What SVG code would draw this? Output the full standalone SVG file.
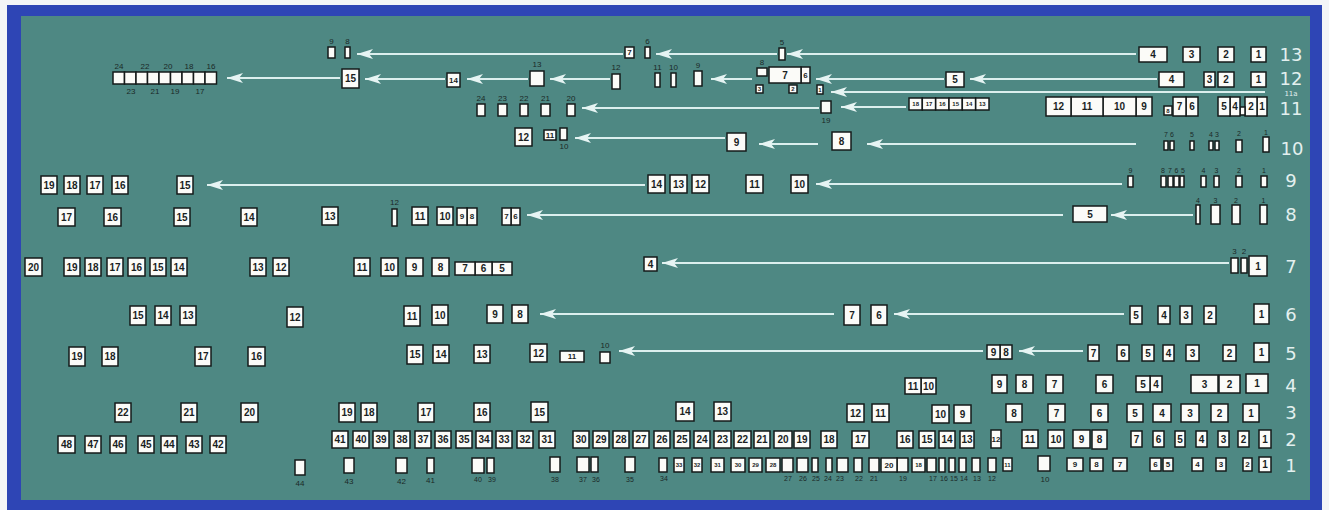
<svg xmlns="http://www.w3.org/2000/svg" width="1329" height="510" viewBox="0 0 1329 510">
<defs>
<style>
.bg{fill:#2e45b5}
.panel{fill:#4e8883}
.n rect{fill:#fbfbf8;stroke:#151a1a;stroke-width:1.5}
.n text{font-family:"Liberation Sans",Arial,sans-serif;font-weight:bold;font-size:10px;fill:#1a1f1f;text-anchor:middle;dominant-baseline:central}
.n text.s{font-size:8px}
.n text.xs{font-size:6px}
.n text.o{font-weight:normal;font-size:8px;fill:#1b2828}
.n text.o7{font-weight:normal;font-size:7px;fill:#1b2828}
.row{font-family:"DejaVu Sans",sans-serif;font-size:18px;fill:#e3f0ef;text-anchor:middle}
.c line{stroke:#dcefee;stroke-width:2;marker-end:url(#ah)}
</style>
<marker id="ah" viewBox="0 0 16 10" refX="16" refY="5" markerWidth="16" markerHeight="10" markerUnits="userSpaceOnUse" orient="auto"><path d="M0,0 L16,5 L0,10 L4,5 Z" fill="#e6f4f3"/></marker>
</defs>
<rect width="1329" height="510" fill="#f4f5f7"/>
<rect class="bg" x="7" y="5" width="1315" height="505"/>
<rect class="panel" x="21" y="16" width="1289" height="484"/>

<g id="connectors" class="c">
<line x1="1136" y1="54" x2="787" y2="54"/>
<line x1="777" y1="54" x2="656" y2="54"/>
<line x1="623" y1="54" x2="357" y2="54"/>
<line x1="1157" y1="79" x2="970" y2="79"/>
<line x1="944" y1="79" x2="816" y2="79"/>
<line x1="752" y1="79" x2="711" y2="79"/>
<line x1="610" y1="79" x2="550" y2="79"/>
<line x1="528" y1="79" x2="467" y2="79"/>
<line x1="445" y1="79" x2="365" y2="79"/>
<line x1="340" y1="78" x2="227" y2="78"/>
<line x1="1265" y1="92" x2="831" y2="92"/>
<line x1="906" y1="107" x2="841" y2="107"/>
<line x1="819" y1="108" x2="582" y2="108"/>
<line x1="1136" y1="144" x2="867" y2="144"/>
<line x1="818" y1="144" x2="759" y2="144"/>
<line x1="725" y1="138" x2="575" y2="138"/>
<line x1="1122" y1="184" x2="816" y2="184"/>
<line x1="645" y1="185" x2="207" y2="185"/>
<line x1="1193" y1="215" x2="1111" y2="215"/>
<line x1="1063" y1="215" x2="527" y2="215"/>
<line x1="1229" y1="263" x2="662" y2="263"/>
<line x1="1124" y1="314" x2="894" y2="314"/>
<line x1="834" y1="314" x2="540" y2="314"/>
<line x1="1083" y1="351" x2="1019" y2="351"/>
<line x1="983" y1="351" x2="619" y2="351"/>
</g>

<g id="row-labels">
<text class="row" x="1291" y="61">13</text>
<text class="row" x="1291" y="85">12</text>
<text class="row" x="1291" y="96" style="font-size:7px">11a</text>
<text class="row" x="1291" y="115">11</text>
<text class="row" x="1292" y="155">10</text>
<text class="row" x="1291" y="187">9</text>
<text class="row" x="1291" y="221">8</text>
<text class="row" x="1291" y="273">7</text>
<text class="row" x="1291" y="321">6</text>
<text class="row" x="1291" y="360">5</text>
<text class="row" x="1291" y="392">4</text>
<text class="row" x="1291" y="419">3</text>
<text class="row" x="1291" y="446">2</text>
<text class="row" x="1291" y="472">1</text>
</g>

<!-- Row 13 -->
<g id="r13-1" class="n"><rect x="1251" y="47" width="15" height="15"/><text x="1258.5" y="54.5">1</text></g>
<g id="r13-2" class="n"><rect x="1218" y="47" width="16" height="15"/><text x="1226" y="54.5">2</text></g>
<g id="r13-3" class="n"><rect x="1183" y="47" width="17" height="15"/><text x="1191.5" y="54.5">3</text></g>
<g id="r13-4" class="n"><rect x="1139" y="47" width="28" height="15"/><text x="1153" y="54.5">4</text></g>
<g id="r13-5" class="n"><rect x="779" y="48" width="6" height="12"/><text class="o" x="782" y="42">5</text></g>
<g id="r13-6" class="n"><rect x="645" y="47" width="5" height="11"/><text class="o" x="647.5" y="41">6</text></g>
<g id="r13-7" class="n"><rect x="625" y="47" width="9" height="11"/><text class="s" x="629.5" y="52.5">7</text></g>
<g id="r13-8" class="n"><rect x="345" y="47" width="5" height="11"/><text class="o" x="347.5" y="41">8</text></g>
<g id="r13-9" class="n"><rect x="328" y="47" width="7" height="11"/><text class="o" x="331.5" y="41">9</text></g>

<!-- Row 12 -->
<g id="r12-1" class="n"><rect x="1251" y="72" width="15" height="15"/><text x="1258.5" y="79.5">1</text></g>
<g id="r12-2" class="n"><rect x="1218" y="72" width="16" height="15"/><text x="1226" y="79.5">2</text></g>
<g id="r12-3" class="n"><rect x="1204" y="72" width="11" height="15"/><text x="1209.5" y="79.5">3</text></g>
<g id="r12-4" class="n"><rect x="1159" y="72" width="25" height="15"/><text x="1171.5" y="79.5">4</text></g>
<g id="r12-5" class="n"><rect x="946" y="72" width="18" height="15"/><text x="955" y="79.5">5</text></g>
<g id="r12-6" class="n"><rect x="801" y="67" width="9" height="16"/><text class="s" x="805.5" y="75">6</text></g>
<g id="r12-7" class="n"><rect x="769" y="67" width="32" height="16"/><text x="785" y="75">7</text></g>
<g id="r12-8" class="n"><rect x="757" y="68" width="10" height="8"/><text class="o" x="762" y="62">8</text></g>
<g id="r12-9" class="n"><rect x="694" y="71" width="8" height="15"/><text class="o" x="698" y="65">9</text></g>
<g id="r12-10" class="n"><rect x="671" y="73" width="5" height="14"/><text class="o" x="673.5" y="67">10</text></g>
<g id="r12-11" class="n"><rect x="655" y="73" width="5" height="14"/><text class="o" x="657.5" y="67">11</text></g>
<g id="r12-12" class="n"><rect x="612" y="74" width="8" height="15"/><text class="o" x="616" y="67">12</text></g>
<g id="r12-13" class="n"><rect x="530" y="71" width="14" height="15"/><text class="o" x="537" y="64">13</text></g>
<g id="r12-14" class="n"><rect x="447" y="73" width="13" height="14"/><text class="s" x="453.5" y="80">14</text></g>
<g id="r12-15" class="n"><rect x="342" y="69" width="17" height="19"/><text x="350.5" y="78.5">15</text></g>
<g id="r12-24" class="n"><rect x="113" y="72" width="11.5" height="12"/><text class="o" x="119" y="66">24</text></g>
<g id="r12-23" class="n"><rect x="124.5" y="72" width="11.5" height="12"/><text class="o" x="131" y="91">23</text></g>
<g id="r12-22" class="n"><rect x="136" y="72" width="11.5" height="12"/><text class="o" x="145" y="66">22</text></g>
<g id="r12-21" class="n"><rect x="147.5" y="72" width="11.5" height="12"/><text class="o" x="155" y="91">21</text></g>
<g id="r12-20" class="n"><rect x="159" y="72" width="11.5" height="12"/><text class="o" x="168" y="66">20</text></g>
<g id="r12-19" class="n"><rect x="170.5" y="72" width="11.5" height="12"/><text class="o" x="175" y="91">19</text></g>
<g id="r12-18" class="n"><rect x="182" y="72" width="11.5" height="12"/><text class="o" x="189" y="66">18</text></g>
<g id="r12-17" class="n"><rect x="193.5" y="72" width="11.5" height="12"/><text class="o" x="200" y="91">17</text></g>
<g id="r12-16" class="n"><rect x="205" y="72" width="11.5" height="12"/><text class="o" x="211" y="66">16</text></g>

<!-- Row 11a -->
<g id="r11a-1" class="n"><rect x="817" y="85" width="6" height="9"/><text class="xs" x="820" y="89.5">1</text></g>
<g id="r11a-2" class="n"><rect x="789" y="85" width="8" height="8"/><text class="xs" x="793" y="89">2</text></g>
<g id="r11a-3" class="n"><rect x="756" y="85" width="7" height="8"/><text class="xs" x="759.5" y="89">3</text></g>

<!-- Row 11 -->
<g id="r11-1" class="n"><rect x="1257" y="97" width="10" height="19"/><text x="1262" y="106.5">1</text></g>
<g id="r11-2" class="n"><rect x="1245" y="97" width="12" height="19"/><text x="1251" y="106.5">2</text></g>
<g id="r11-3" class="n"><rect x="1240" y="107" width="5" height="8"/></g>
<g id="r11-4" class="n"><rect x="1230" y="97" width="10" height="19"/><text x="1235" y="106.5">4</text></g>
<g id="r11-5" class="n"><rect x="1218" y="97" width="12" height="19"/><text x="1224" y="106.5">5</text></g>
<g id="r11-6" class="n"><rect x="1186" y="97" width="12" height="19"/><text x="1192" y="106.5">6</text></g>
<g id="r11-7" class="n"><rect x="1173" y="97" width="13" height="19"/><text x="1179.5" y="106.5">7</text></g>
<g id="r11-8" class="n"><rect x="1164" y="106" width="8" height="9"/><text class="xs" x="1168" y="110.5">8</text></g>
<g id="r11-9" class="n"><rect x="1136" y="97" width="16" height="19"/><text x="1144" y="106.5">9</text></g>
<g id="r11-10" class="n"><rect x="1103" y="97" width="33" height="19"/><text x="1119.5" y="106.5">10</text></g>
<g id="r11-11" class="n"><rect x="1071" y="97" width="32" height="19"/><text x="1087" y="106.5">11</text></g>
<g id="r11-12" class="n"><rect x="1046" y="97" width="25" height="19"/><text x="1058.5" y="106.5">12</text></g>
<g id="r11-18" class="n"><rect x="909" y="98" width="13.3" height="12"/><text class="xs" x="915.7" y="104">18</text></g>
<g id="r11-17" class="n"><rect x="922.3" y="98" width="13.3" height="12"/><text class="xs" x="929" y="104">17</text></g>
<g id="r11-16" class="n"><rect x="935.7" y="98" width="13.3" height="12"/><text class="xs" x="942.3" y="104">16</text></g>
<g id="r11-15" class="n"><rect x="949" y="98" width="13.3" height="12"/><text class="xs" x="955.7" y="104">15</text></g>
<g id="r11-14" class="n"><rect x="962.3" y="98" width="13.3" height="12"/><text class="xs" x="969" y="104">14</text></g>
<g id="r11-13" class="n"><rect x="975.7" y="98" width="13.3" height="12"/><text class="xs" x="982.3" y="104">13</text></g>
<g id="r11-19" class="n"><rect x="821" y="101" width="10" height="12"/><text class="o" x="826" y="120">19</text></g>
<g id="r11-20" class="n"><rect x="567" y="104" width="8" height="12"/><text class="o" x="571" y="98">20</text></g>
<g id="r11-21" class="n"><rect x="541" y="104" width="9" height="12"/><text class="o" x="545.5" y="98">21</text></g>
<g id="r11-22" class="n"><rect x="520" y="104" width="8" height="12"/><text class="o" x="524" y="98">22</text></g>
<g id="r11-23" class="n"><rect x="498" y="104" width="9" height="12"/><text class="o" x="502.5" y="98">23</text></g>
<g id="r11-24" class="n"><rect x="477" y="104" width="8" height="12"/><text class="o" x="481" y="98">24</text></g>

<!-- Row 10 -->
<g id="r10-1" class="n"><rect x="1263" y="137" width="6" height="15"/><text class="o7" x="1266" y="132">1</text></g>
<g id="r10-2" class="n"><rect x="1236" y="140" width="6" height="12"/><text class="o7" x="1239" y="133">2</text></g>
<g id="r10-3" class="n"><rect x="1215" y="141" width="4" height="9"/><text class="o7" x="1217" y="134">3</text></g>
<g id="r10-4" class="n"><rect x="1209" y="141" width="4" height="9"/><text class="o7" x="1211" y="134">4</text></g>
<g id="r10-5" class="n"><rect x="1190" y="141" width="4" height="9"/><text class="o7" x="1192" y="134">5</text></g>
<g id="r10-6" class="n"><rect x="1170" y="141" width="4" height="9"/><text class="o7" x="1172" y="134">6</text></g>
<g id="r10-7" class="n"><rect x="1164" y="141" width="4" height="9"/><text class="o7" x="1166" y="134">7</text></g>
<g id="r10-8" class="n"><rect x="832" y="132" width="19" height="18"/><text x="841.5" y="141">8</text></g>
<g id="r10-9" class="n"><rect x="727" y="133" width="19" height="18"/><text x="736.5" y="142">9</text></g>
<g id="r10-10" class="n"><rect x="560" y="128" width="7" height="12"/><text class="o" x="564" y="146">10</text></g>
<g id="r10-11" class="n"><rect x="544" y="130" width="12" height="10"/><text class="s" x="550" y="135">11</text></g>
<g id="r10-12" class="n"><rect x="515" y="128" width="17" height="18"/><text x="523.5" y="137">12</text></g>

<!-- Row 9 -->
<g id="r9-1" class="n"><rect x="1261" y="176" width="6" height="11"/><text class="o7" x="1264" y="170">1</text></g>
<g id="r9-2" class="n"><rect x="1236" y="176" width="6" height="11"/><text class="o7" x="1239" y="170">2</text></g>
<g id="r9-3" class="n"><rect x="1214" y="176" width="5" height="11"/><text class="o7" x="1216.5" y="170">3</text></g>
<g id="r9-4" class="n"><rect x="1201" y="176" width="5" height="11"/><text class="o7" x="1203.5" y="170">4</text></g>
<g id="r9-5" class="n"><rect x="1180" y="176" width="4" height="11"/><text class="o7" x="1183" y="170">5</text></g>
<g id="r9-6" class="n"><rect x="1174" y="176" width="5" height="11"/><text class="o7" x="1176.5" y="170">6</text></g>
<g id="r9-7" class="n"><rect x="1168" y="176" width="5" height="11"/><text class="o7" x="1170" y="170">7</text></g>
<g id="r9-8" class="n"><rect x="1161" y="176" width="5" height="11"/><text class="o7" x="1163" y="170">8</text></g>
<g id="r9-9" class="n"><rect x="1128" y="176" width="5" height="11"/><text class="o7" x="1130.5" y="170">9</text></g>
<g id="r9-10" class="n"><rect x="791" y="175" width="17" height="18"/><text x="799.5" y="184">10</text></g>
<g id="r9-11" class="n"><rect x="746" y="175" width="17" height="18"/><text x="754.5" y="184">11</text></g>
<g id="r9-12" class="n"><rect x="692" y="175" width="17" height="18"/><text x="700.5" y="184">12</text></g>
<g id="r9-13" class="n"><rect x="670" y="175" width="17" height="18"/><text x="678.5" y="184">13</text></g>
<g id="r9-14" class="n"><rect x="648" y="175" width="17" height="18"/><text x="656.5" y="184">14</text></g>
<g id="r9-15" class="n"><rect x="177" y="176" width="16" height="18"/><text x="185" y="185">15</text></g>
<g id="r9-16" class="n"><rect x="112" y="176" width="16" height="18"/><text x="120" y="185">16</text></g>
<g id="r9-17" class="n"><rect x="87" y="176" width="16" height="18"/><text x="95" y="185">17</text></g>
<g id="r9-18" class="n"><rect x="64" y="176" width="16" height="18"/><text x="72" y="185">18</text></g>
<g id="r9-19" class="n"><rect x="41" y="176" width="16" height="18"/><text x="49" y="185">19</text></g>

<!-- Row 8 -->
<g id="r8-1" class="n"><rect x="1260" y="205" width="7" height="19"/><text class="o7" x="1263.5" y="200">1</text></g>
<g id="r8-2" class="n"><rect x="1232" y="205" width="8" height="19"/><text class="o7" x="1236" y="200">2</text></g>
<g id="r8-3" class="n"><rect x="1211" y="205" width="9" height="19"/><text class="o7" x="1215.5" y="200">3</text></g>
<g id="r8-4" class="n"><rect x="1196" y="205" width="4" height="19"/><text class="o7" x="1198" y="200">4</text></g>
<g id="r8-5" class="n"><rect x="1073" y="206" width="34" height="16"/><text x="1090" y="214">5</text></g>
<g id="r8-6" class="n"><rect x="511" y="208" width="9" height="17"/><text class="s" x="515.5" y="216.5">6</text></g>
<g id="r8-7" class="n"><rect x="502" y="208" width="9" height="17"/><text class="s" x="506.5" y="216.5">7</text></g>
<g id="r8-8" class="n"><rect x="467" y="208" width="10" height="17"/><text class="s" x="472" y="216.5">8</text></g>
<g id="r8-9" class="n"><rect x="457" y="208" width="10" height="17"/><text class="s" x="462" y="216.5">9</text></g>
<g id="r8-10" class="n"><rect x="437" y="207" width="16" height="18"/><text x="445" y="216">10</text></g>
<g id="r8-11" class="n"><rect x="412" y="207" width="16" height="18"/><text x="420" y="216">11</text></g>
<g id="r8-12" class="n"><rect x="392" y="209" width="5" height="17"/><text class="o" x="394.5" y="202">12</text></g>
<g id="r8-13" class="n"><rect x="322" y="207" width="16" height="18"/><text x="330" y="216">13</text></g>
<g id="r8-14" class="n"><rect x="241" y="208" width="16" height="18"/><text x="249" y="217">14</text></g>
<g id="r8-15" class="n"><rect x="174" y="208" width="16" height="18"/><text x="182" y="217">15</text></g>
<g id="r8-16" class="n"><rect x="104" y="208" width="17" height="18"/><text x="112.5" y="217">16</text></g>
<g id="r8-17" class="n"><rect x="58" y="208" width="17" height="18"/><text x="66.5" y="217">17</text></g>

<!-- Row 7 -->
<g id="r7-1" class="n"><rect x="1249" y="256" width="18" height="20"/><text x="1258" y="266">1</text></g>
<g id="r7-2" class="n"><rect x="1241" y="258" width="6" height="15"/><text class="o" x="1244" y="251">2</text></g>
<g id="r7-3" class="n"><rect x="1231" y="258" width="7" height="15"/><text class="o" x="1234.5" y="251">3</text></g>
<g id="r7-4" class="n"><rect x="644" y="257" width="13" height="14"/><text x="650.5" y="264">4</text></g>
<g id="r7-5" class="n"><rect x="492" y="262" width="20" height="13"/><text x="502" y="268.5">5</text></g>
<g id="r7-6" class="n"><rect x="475" y="262" width="17" height="13"/><text x="483.5" y="268.5">6</text></g>
<g id="r7-7" class="n"><rect x="455" y="262" width="20" height="13"/><text x="465" y="268.5">7</text></g>
<g id="r7-8" class="n"><rect x="432" y="258" width="17" height="18"/><text x="440.5" y="267">8</text></g>
<g id="r7-9" class="n"><rect x="406" y="258" width="17" height="18"/><text x="414.5" y="267">9</text></g>
<g id="r7-10" class="n"><rect x="381" y="258" width="17" height="18"/><text x="389.5" y="267">10</text></g>
<g id="r7-11" class="n"><rect x="354" y="258" width="16" height="18"/><text x="362" y="267">11</text></g>
<g id="r7-12" class="n"><rect x="273" y="258" width="16" height="18"/><text x="281" y="267">12</text></g>
<g id="r7-13" class="n"><rect x="250" y="258" width="16" height="18"/><text x="258" y="267">13</text></g>
<g id="r7-14" class="n"><rect x="171" y="258" width="16" height="18"/><text x="179" y="267">14</text></g>
<g id="r7-15" class="n"><rect x="150" y="258" width="16" height="18"/><text x="158" y="267">15</text></g>
<g id="r7-16" class="n"><rect x="128" y="258" width="17" height="18"/><text x="136.5" y="267">16</text></g>
<g id="r7-17" class="n"><rect x="107" y="258" width="16" height="18"/><text x="115" y="267">17</text></g>
<g id="r7-18" class="n"><rect x="85" y="258" width="16" height="18"/><text x="93" y="267">18</text></g>
<g id="r7-19" class="n"><rect x="64" y="258" width="16" height="18"/><text x="72" y="267">19</text></g>
<g id="r7-20" class="n"><rect x="25" y="258" width="17" height="18"/><text x="33.5" y="267">20</text></g>

<!-- Row 6 -->
<g id="r6-1" class="n"><rect x="1254" y="304" width="15" height="20"/><text x="1261.5" y="314">1</text></g>
<g id="r6-2" class="n"><rect x="1204" y="306" width="12" height="18"/><text x="1210" y="315">2</text></g>
<g id="r6-3" class="n"><rect x="1180" y="306" width="12" height="18"/><text x="1186" y="315">3</text></g>
<g id="r6-4" class="n"><rect x="1158" y="306" width="12" height="18"/><text x="1164" y="315">4</text></g>
<g id="r6-5" class="n"><rect x="1130" y="306" width="12" height="18"/><text x="1136" y="315">5</text></g>
<g id="r6-6" class="n"><rect x="871" y="305" width="16" height="20"/><text x="879" y="315">6</text></g>
<g id="r6-7" class="n"><rect x="844" y="305" width="16" height="20"/><text x="852" y="315">7</text></g>
<g id="r6-8" class="n"><rect x="512" y="305" width="16" height="18"/><text x="520" y="314">8</text></g>
<g id="r6-9" class="n"><rect x="487" y="305" width="16" height="18"/><text x="495" y="314">9</text></g>
<g id="r6-10" class="n"><rect x="432" y="305" width="16" height="20"/><text x="440" y="315">10</text></g>
<g id="r6-11" class="n"><rect x="404" y="306" width="16" height="20"/><text x="412" y="316">11</text></g>
<g id="r6-12" class="n"><rect x="287" y="307" width="16" height="20"/><text x="295" y="317">12</text></g>
<g id="r6-13" class="n"><rect x="180" y="306" width="16" height="19"/><text x="188" y="315.5">13</text></g>
<g id="r6-14" class="n"><rect x="155" y="306" width="16" height="19"/><text x="163" y="315.5">14</text></g>
<g id="r6-15" class="n"><rect x="130" y="306" width="16" height="19"/><text x="138" y="315.5">15</text></g>

<!-- Row 5 -->
<g id="r5-1" class="n"><rect x="1254" y="343" width="15" height="19"/><text x="1261.5" y="352.5">1</text></g>
<g id="r5-2" class="n"><rect x="1223" y="345" width="13" height="16"/><text x="1229.5" y="353">2</text></g>
<g id="r5-3" class="n"><rect x="1186" y="345" width="13" height="16"/><text x="1192.5" y="353">3</text></g>
<g id="r5-4" class="n"><rect x="1163" y="345" width="11" height="16"/><text x="1168.5" y="353">4</text></g>
<g id="r5-5" class="n"><rect x="1142" y="345" width="12" height="16"/><text x="1148" y="353">5</text></g>
<g id="r5-6" class="n"><rect x="1117" y="345" width="12" height="16"/><text x="1123" y="353">6</text></g>
<g id="r5-7" class="n"><rect x="1088" y="345" width="11" height="16"/><text x="1093.5" y="353">7</text></g>
<g id="r5-8" class="n"><rect x="1000" y="345" width="12" height="14"/><text x="1006" y="352">8</text></g>
<g id="r5-9" class="n"><rect x="987" y="345" width="13" height="14"/><text x="993.5" y="352">9</text></g>
<g id="r5-10" class="n"><rect x="600" y="352" width="10" height="11"/><text class="o" x="605" y="345">10</text></g>
<g id="r5-11" class="n"><rect x="560" y="351" width="24" height="11"/><text class="s" x="572" y="356.5">11</text></g>
<g id="r5-12" class="n"><rect x="530" y="344" width="17" height="18"/><text x="538.5" y="353">12</text></g>
<g id="r5-13" class="n"><rect x="474" y="345" width="16" height="18"/><text x="482" y="354">13</text></g>
<g id="r5-14" class="n"><rect x="433" y="345" width="16" height="18"/><text x="441" y="354">14</text></g>
<g id="r5-15" class="n"><rect x="407" y="345" width="16" height="19"/><text x="415" y="354.5">15</text></g>
<g id="r5-16" class="n"><rect x="248" y="347" width="17" height="19"/><text x="256.5" y="356.5">16</text></g>
<g id="r5-17" class="n"><rect x="195" y="347" width="16" height="19"/><text x="203" y="356.5">17</text></g>
<g id="r5-18" class="n"><rect x="102" y="347" width="16" height="19"/><text x="110" y="356.5">18</text></g>
<g id="r5-19" class="n"><rect x="69" y="347" width="16" height="19"/><text x="77" y="356.5">19</text></g>

<!-- Row 4 -->
<g id="r4-1" class="n"><rect x="1246" y="374" width="22" height="19"/><text x="1257" y="383.5">1</text></g>
<g id="r4-2" class="n"><rect x="1219" y="375" width="21" height="18"/><text x="1229.5" y="384">2</text></g>
<g id="r4-3" class="n"><rect x="1191" y="375" width="27" height="18"/><text x="1204.5" y="384">3</text></g>
<g id="r4-4" class="n"><rect x="1150" y="376" width="12" height="16"/><text x="1156" y="384">4</text></g>
<g id="r4-5" class="n"><rect x="1136" y="376" width="14" height="16"/><text x="1143" y="384">5</text></g>
<g id="r4-6" class="n"><rect x="1096" y="375" width="17" height="18"/><text x="1104.5" y="384">6</text></g>
<g id="r4-7" class="n"><rect x="1046" y="375" width="17" height="18"/><text x="1054.5" y="384">7</text></g>
<g id="r4-8" class="n"><rect x="1016" y="375" width="17" height="18"/><text x="1024.5" y="384">8</text></g>
<g id="r4-9" class="n"><rect x="992" y="375" width="15" height="18"/><text x="999.5" y="384">9</text></g>
<g id="r4-10" class="n"><rect x="921" y="378" width="15" height="16"/><text x="928.5" y="386">10</text></g>
<g id="r4-11" class="n"><rect x="905" y="378" width="16" height="16"/><text x="913" y="386">11</text></g>

<!-- Row 3 -->
<g id="r3-1" class="n"><rect x="1243" y="404" width="16" height="18"/><text x="1251" y="413">1</text></g>
<g id="r3-2" class="n"><rect x="1211" y="404" width="17" height="18"/><text x="1219.5" y="413">2</text></g>
<g id="r3-3" class="n"><rect x="1181" y="404" width="18" height="18"/><text x="1190" y="413">3</text></g>
<g id="r3-4" class="n"><rect x="1153" y="404" width="18" height="18"/><text x="1162" y="413">4</text></g>
<g id="r3-5" class="n"><rect x="1127" y="404" width="16" height="18"/><text x="1135" y="413">5</text></g>
<g id="r3-6" class="n"><rect x="1091" y="404" width="17" height="18"/><text x="1099.5" y="413">6</text></g>
<g id="r3-7" class="n"><rect x="1048" y="404" width="17" height="18"/><text x="1056.5" y="413">7</text></g>
<g id="r3-8" class="n"><rect x="1006" y="404" width="16" height="18"/><text x="1014" y="413">8</text></g>
<g id="r3-9" class="n"><rect x="954" y="405" width="17" height="18"/><text x="962.5" y="414">9</text></g>
<g id="r3-10" class="n"><rect x="932" y="405" width="17" height="18"/><text x="940.5" y="414">10</text></g>
<g id="r3-11" class="n"><rect x="872" y="404" width="17" height="18"/><text x="880.5" y="413">11</text></g>
<g id="r3-12" class="n"><rect x="847" y="404" width="17" height="18"/><text x="855.5" y="413">12</text></g>
<g id="r3-13" class="n"><rect x="714" y="402" width="17" height="19"/><text x="722.5" y="411.5">13</text></g>
<g id="r3-14" class="n"><rect x="676" y="402" width="18" height="19"/><text x="685" y="411.5">14</text></g>
<g id="r3-15" class="n"><rect x="531" y="402" width="17" height="20"/><text x="539.5" y="412">15</text></g>
<g id="r3-16" class="n"><rect x="474" y="403" width="16" height="19"/><text x="482" y="412.5">16</text></g>
<g id="r3-17" class="n"><rect x="418" y="403" width="16" height="19"/><text x="426" y="412.5">17</text></g>
<g id="r3-18" class="n"><rect x="361" y="403" width="16" height="19"/><text x="369" y="412.5">18</text></g>
<g id="r3-19" class="n"><rect x="339" y="403" width="16" height="19"/><text x="347" y="412.5">19</text></g>
<g id="r3-20" class="n"><rect x="241" y="403" width="17" height="19"/><text x="249.5" y="412.5">20</text></g>
<g id="r3-21" class="n"><rect x="181" y="403" width="16" height="19"/><text x="189" y="412.5">21</text></g>
<g id="r3-22" class="n"><rect x="115" y="403" width="16" height="19"/><text x="123" y="412.5">22</text></g>

<!-- Row 2 -->
<g id="r2-1" class="n"><rect x="1259" y="430" width="12" height="18"/><text x="1265" y="439">1</text></g>
<g id="r2-2" class="n"><rect x="1238" y="431" width="11" height="16"/><text x="1243.5" y="439">2</text></g>
<g id="r2-3" class="n"><rect x="1218" y="431" width="11" height="16"/><text x="1223.5" y="439">3</text></g>
<g id="r2-4" class="n"><rect x="1196" y="431" width="11" height="16"/><text x="1201.5" y="439">4</text></g>
<g id="r2-5" class="n"><rect x="1175" y="431" width="10" height="16"/><text x="1180" y="439">5</text></g>
<g id="r2-6" class="n"><rect x="1153" y="431" width="11" height="16"/><text x="1158.5" y="439">6</text></g>
<g id="r2-7" class="n"><rect x="1131" y="431" width="11" height="16"/><text x="1136.5" y="439">7</text></g>
<g id="r2-8" class="n"><rect x="1092" y="430" width="15" height="19"/><text x="1099.5" y="439.5">8</text></g>
<g id="r2-9" class="n"><rect x="1073" y="430" width="17" height="18"/><text x="1081.5" y="439">9</text></g>
<g id="r2-10" class="n"><rect x="1048" y="430" width="16" height="18"/><text x="1056" y="439">10</text></g>
<g id="r2-11" class="n"><rect x="1022" y="430" width="16" height="18"/><text x="1030" y="439">11</text></g>
<g id="r2-12" class="n"><rect x="991" y="430" width="10" height="18"/><text class="s" x="996" y="439">12</text></g>
<g id="r2-13" class="n"><rect x="960" y="431" width="14" height="17"/><text x="967" y="439.5">13</text></g>
<g id="r2-14" class="n"><rect x="939" y="431" width="16" height="17"/><text x="947" y="439.5">14</text></g>
<g id="r2-15" class="n"><rect x="919" y="431" width="16" height="17"/><text x="927" y="439.5">15</text></g>
<g id="r2-16" class="n"><rect x="897" y="431" width="16" height="17"/><text x="905" y="439.5">16</text></g>
<g id="r2-17" class="n"><rect x="852" y="431" width="17" height="17"/><text x="860.5" y="439.5">17</text></g>
<g id="r2-18" class="n"><rect x="821" y="431" width="16" height="17"/><text x="829" y="439.5">18</text></g>
<g id="r2-19" class="n"><rect x="794" y="431" width="16" height="17"/><text x="802" y="439.5">19</text></g>
<g id="r2-20" class="n"><rect x="774" y="431" width="18" height="17"/><text x="783" y="439.5">20</text></g>
<g id="r2-21" class="n"><rect x="754" y="431" width="16" height="17"/><text x="762" y="439.5">21</text></g>
<g id="r2-22" class="n"><rect x="734" y="431" width="17" height="17"/><text x="742.5" y="439.5">22</text></g>
<g id="r2-23" class="n"><rect x="714" y="431" width="17" height="17"/><text x="722.5" y="439.5">23</text></g>
<g id="r2-24" class="n"><rect x="694" y="431" width="16" height="17"/><text x="702" y="439.5">24</text></g>
<g id="r2-25" class="n"><rect x="674" y="431" width="16" height="17"/><text x="682" y="439.5">25</text></g>
<g id="r2-26" class="n"><rect x="654" y="431" width="16" height="17"/><text x="662" y="439.5">26</text></g>
<g id="r2-27" class="n"><rect x="633" y="431" width="16" height="17"/><text x="641" y="439.5">27</text></g>
<g id="r2-28" class="n"><rect x="613" y="431" width="16" height="17"/><text x="621" y="439.5">28</text></g>
<g id="r2-29" class="n"><rect x="593" y="431" width="16" height="17"/><text x="601" y="439.5">29</text></g>
<g id="r2-30" class="n"><rect x="573" y="431" width="16" height="17"/><text x="581" y="439.5">30</text></g>
<g id="r2-31" class="n"><rect x="539" y="431" width="16" height="17"/><text x="547" y="439.5">31</text></g>
<g id="r2-32" class="n"><rect x="517" y="431" width="16" height="17"/><text x="525" y="439.5">32</text></g>
<g id="r2-33" class="n"><rect x="496" y="431" width="16" height="17"/><text x="504" y="439.5">33</text></g>
<g id="r2-34" class="n"><rect x="476" y="431" width="16" height="17"/><text x="484" y="439.5">34</text></g>
<g id="r2-35" class="n"><rect x="456" y="431" width="16" height="17"/><text x="464" y="439.5">35</text></g>
<g id="r2-36" class="n"><rect x="435" y="431" width="16" height="17"/><text x="443" y="439.5">36</text></g>
<g id="r2-37" class="n"><rect x="415" y="431" width="16" height="17"/><text x="423" y="439.5">37</text></g>
<g id="r2-38" class="n"><rect x="394" y="431" width="16" height="17"/><text x="402" y="439.5">38</text></g>
<g id="r2-39" class="n"><rect x="373" y="431" width="16" height="17"/><text x="381" y="439.5">39</text></g>
<g id="r2-40" class="n"><rect x="353" y="431" width="16" height="17"/><text x="361" y="439.5">40</text></g>
<g id="r2-41" class="n"><rect x="332" y="431" width="16" height="17"/><text x="340" y="439.5">41</text></g>
<g id="r2-42" class="n"><rect x="210" y="436" width="16" height="17"/><text x="218" y="444.5">42</text></g>
<g id="r2-43" class="n"><rect x="186" y="436" width="16" height="17"/><text x="194" y="444.5">43</text></g>
<g id="r2-44" class="n"><rect x="161" y="436" width="16" height="17"/><text x="169" y="444.5">44</text></g>
<g id="r2-45" class="n"><rect x="138" y="436" width="16" height="17"/><text x="146" y="444.5">45</text></g>
<g id="r2-46" class="n"><rect x="110" y="436" width="16" height="17"/><text x="118" y="444.5">46</text></g>
<g id="r2-47" class="n"><rect x="85" y="436" width="16" height="17"/><text x="93" y="444.5">47</text></g>
<g id="r2-48" class="n"><rect x="58" y="436" width="17" height="17"/><text x="66.5" y="444.5">48</text></g>

<!-- Row 1 -->
<g id="r1-1" class="n"><rect x="1259" y="457" width="12" height="15"/><text x="1265" y="464.5">1</text></g>
<g id="r1-2" class="n"><rect x="1243" y="458" width="9" height="13"/><text class="s" x="1247.5" y="464.5">2</text></g>
<g id="r1-3" class="n"><rect x="1216" y="458" width="10" height="13"/><text class="s" x="1221" y="464.5">3</text></g>
<g id="r1-4" class="n"><rect x="1192" y="458" width="11" height="13"/><text class="s" x="1197.5" y="464.5">4</text></g>
<g id="r1-5" class="n"><rect x="1163" y="458" width="10" height="13"/><text class="s" x="1168" y="464.5">5</text></g>
<g id="r1-6" class="n"><rect x="1150" y="458" width="11" height="13"/><text class="s" x="1155.5" y="464.5">6</text></g>
<g id="r1-7" class="n"><rect x="1113" y="458" width="14" height="13"/><text class="s" x="1120" y="464.5">7</text></g>
<g id="r1-8" class="n"><rect x="1090" y="458" width="13" height="13"/><text class="s" x="1096.5" y="464.5">8</text></g>
<g id="r1-9" class="n"><rect x="1067" y="458" width="16" height="13"/><text class="s" x="1075" y="464.5">9</text></g>
<g id="r1-10" class="n"><rect x="1038" y="456" width="12" height="15"/><text class="o" x="1045" y="479">10</text></g>
<g id="r1-11" class="n"><rect x="1003" y="458" width="9" height="13"/><text class="xs" x="1007.5" y="464.5">11</text></g>
<g id="r1-12" class="n"><rect x="988" y="458" width="8" height="14"/><text class="o7" x="992" y="478">12</text></g>
<g id="r1-13" class="n"><rect x="972" y="458" width="8" height="14"/><text class="o7" x="977" y="478">13</text></g>
<g id="r1-14" class="n"><rect x="959" y="458" width="7" height="14"/><text class="o7" x="964" y="478">14</text></g>
<g id="r1-15" class="n"><rect x="949" y="458" width="6" height="14"/><text class="o7" x="954" y="478">15</text></g>
<g id="r1-16" class="n"><rect x="939" y="458" width="6" height="14"/><text class="o7" x="944" y="478">16</text></g>
<g id="r1-17" class="n"><rect x="927" y="458" width="9" height="14"/><text class="o7" x="933" y="478">17</text></g>
<g id="r1-18" class="n"><rect x="912" y="458" width="13" height="14"/><text class="xs" x="918.5" y="465">18</text></g>
<g id="r1-19" class="n"><rect x="897" y="458" width="11" height="14"/><text class="o7" x="903" y="478">19</text></g>
<g id="r1-20" class="n"><rect x="881" y="458" width="16" height="14"/><text class="s" x="889" y="465">20</text></g>
<g id="r1-21" class="n"><rect x="869" y="458" width="10" height="14"/><text class="o7" x="874" y="478">21</text></g>
<g id="r1-22" class="n"><rect x="854" y="458" width="8" height="14"/><text class="o7" x="859" y="478">22</text></g>
<g id="r1-23" class="n"><rect x="837" y="458" width="11" height="14"/><text class="o7" x="840" y="478">23</text></g>
<g id="r1-24" class="n"><rect x="826" y="458" width="6" height="14"/><text class="o7" x="828" y="478">24</text></g>
<g id="r1-25" class="n"><rect x="812" y="458" width="6" height="14"/><text class="o7" x="816" y="478">25</text></g>
<g id="r1-26" class="n"><rect x="797" y="458" width="11" height="14"/><text class="o7" x="803" y="478">26</text></g>
<g id="r1-27" class="n"><rect x="782" y="458" width="11" height="14"/><text class="o7" x="788" y="478">27</text></g>
<g id="r1-28" class="n"><rect x="766" y="458" width="14" height="14"/><text class="xs" x="773" y="465">28</text></g>
<g id="r1-29" class="n"><rect x="749" y="458" width="13" height="14"/><text class="xs" x="755.5" y="465">29</text></g>
<g id="r1-30" class="n"><rect x="731" y="458" width="14" height="14"/><text class="xs" x="738" y="465">30</text></g>
<g id="r1-31" class="n"><rect x="711" y="458" width="13" height="14"/><text class="xs" x="717.5" y="465">31</text></g>
<g id="r1-32" class="n"><rect x="692" y="458" width="10" height="14"/><text class="xs" x="697" y="465">32</text></g>
<g id="r1-33" class="n"><rect x="674" y="458" width="10" height="14"/><text class="xs" x="679" y="465">33</text></g>
<g id="r1-34" class="n"><rect x="659" y="458" width="8" height="14"/><text class="o7" x="664" y="478">34</text></g>
<g id="r1-35" class="n"><rect x="625" y="457" width="10" height="15"/><text class="o7" x="630" y="479">35</text></g>
<g id="r1-36" class="n"><rect x="591" y="457" width="7" height="15"/><text class="o7" x="596" y="479">36</text></g>
<g id="r1-37" class="n"><rect x="577" y="457" width="12" height="15"/><text class="o7" x="583" y="479">37</text></g>
<g id="r1-38" class="n"><rect x="550" y="457" width="10" height="15"/><text class="o7" x="555" y="479">38</text></g>
<g id="r1-39" class="n"><rect x="487" y="458" width="7" height="15"/><text class="o7" x="492" y="479">39</text></g>
<g id="r1-40" class="n"><rect x="472" y="458" width="12" height="15"/><text class="o7" x="478" y="479">40</text></g>
<g id="r1-41" class="n"><rect x="427" y="458" width="7" height="15"/><text class="o" x="430.5" y="480">41</text></g>
<g id="r1-42" class="n"><rect x="396" y="458" width="11" height="15"/><text class="o" x="401.5" y="481">42</text></g>
<g id="r1-43" class="n"><rect x="344" y="458" width="10" height="15"/><text class="o" x="349" y="481">43</text></g>
<g id="r1-44" class="n"><rect x="295" y="460" width="10" height="15"/><text class="o" x="300" y="483">44</text></g>
</svg>
